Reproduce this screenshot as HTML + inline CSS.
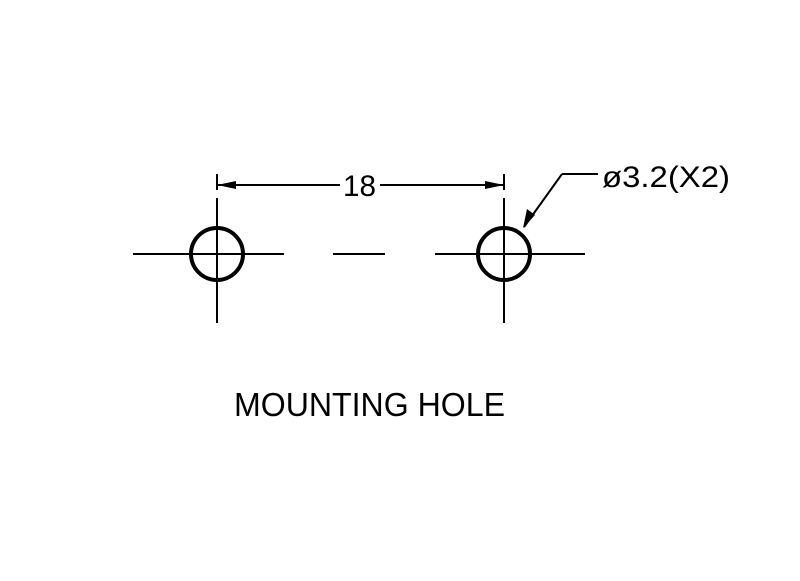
<!DOCTYPE html>
<html><head><style>html,body{margin:0;padding:0;background:#fff}</style></head>
<body>
<svg width="800" height="576" viewBox="0 0 800 576" xmlns="http://www.w3.org/2000/svg">
<g stroke="#000" stroke-width="2" fill="none">
<line x1="133" y1="254" x2="284" y2="254"/>
<line x1="333" y1="254" x2="385" y2="254"/>
<line x1="435" y1="254" x2="585" y2="254"/>
<line x1="217" y1="198" x2="217" y2="323"/>
<line x1="504" y1="198" x2="504" y2="323"/>
<line x1="217" y1="174" x2="217" y2="190"/>
<line x1="504" y1="174" x2="504" y2="190"/>
<line x1="217" y1="185" x2="340" y2="185"/>
<line x1="380" y1="185" x2="504" y2="185"/>
<line x1="562" y1="174" x2="598" y2="174"/>
<line x1="562" y1="174" x2="524" y2="227"/>
</g>
<g stroke="#000" stroke-width="4" fill="none">
<circle cx="217" cy="254" r="26"/>
<circle cx="504" cy="254" r="26"/>
</g>
<g fill="#000">
<polygon points="217,185 236,181 236,189"/>
<polygon points="504,185 485,181 485,189"/>
<polygon points="523,228 527,209 535,215"/>
</g>
<g font-family="Liberation Sans, sans-serif" fill="#000">
<text x="343" y="196" font-size="30" textLength="33" lengthAdjust="spacingAndGlyphs">18</text>
<text x="602" y="187" font-size="30" textLength="128" lengthAdjust="spacingAndGlyphs">ø3.2(X2)</text>
<text x="234" y="416" font-size="33" textLength="271" lengthAdjust="spacingAndGlyphs">MOUNTING  HOLE</text>
</g>
</svg>
</body></html>
